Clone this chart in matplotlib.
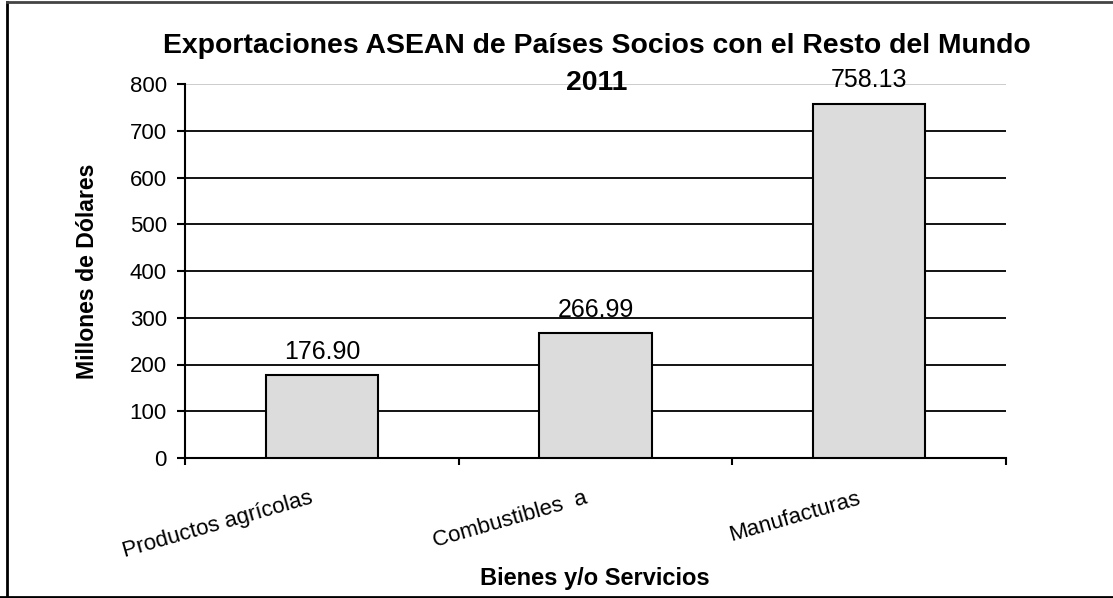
import matplotlib
matplotlib.use("Agg")
import matplotlib.pyplot as plt
import matplotlib.transforms as mtransforms
from matplotlib.lines import Line2D

categories = ["Productos agrícolas", "Combustibles  a", "Manufacturas"]
values = [176.90, 266.99, 758.13]
yticks = [0, 100, 200, 300, 400, 500, 600, 700, 800]
title_line1 = "Exportaciones ASEAN de Países Socios con el Resto del Mundo"
title_line2 = "2011"
ylabel = "Millones de Dólares"
xlabel = "Bienes y/o Servicios"

plt.rcParams['font.family'] = ['Liberation Sans', 'DejaVu Sans']

W, H = 1113, 598
fig = plt.figure(figsize=(W / 100, H / 100), dpi=100)
ax = fig.add_axes([185 / W, 1 - 458 / H, (1006 - 185) / W, (458 - 84) / H])

x = list(range(len(categories)))
ax.bar(x, values, width=0.41, color="#dcdcdc", edgecolor="black", linewidth=1.5, zorder=3)
for xi, v in zip(x, values):
    ax.annotate(f"{v:.2f}", (xi, v), xytext=(0, 8.4), textcoords="offset points",
                ha="center", va="bottom", fontsize=18)

ax.set_xlim(-0.5, len(categories) - 0.5)
ax.set_ylim(0, 800)
ax.set_yticks(yticks)
ax.set_yticklabels([str(t) for t in yticks], fontsize=16)
for t in yticks[1:]:
    ax.axhline(t, color="#c8c8c8" if t == 800 else "black", linewidth=1.3, zorder=1)

ax.set_xticks([i - 0.5 for i in range(len(categories) + 1)])
ax.set_xticklabels([])
ax.set_xticks(x, minor=True)
ax.set_xticklabels(categories, minor=True, fontsize=16, rotation=16,
                   ha="right", rotation_mode="anchor")
ax.tick_params(axis="x", which="minor", length=0, pad=21.5)
ax.tick_params(axis="x", which="major", length=5, width=1.5, direction="out")
ax.tick_params(axis="y", length=5.8, width=1.5, direction="out", pad=7.2)
shift = mtransforms.ScaledTranslation(-12 / 100, 0, fig.dpi_scale_trans)
for lab in ax.get_xticklabels(minor=True):
    lab.set_transform(lab.get_transform() + shift)

for s in ["top", "right"]:
    ax.spines[s].set_visible(False)
for s in ["left", "bottom"]:
    ax.spines[s].set_linewidth(1.5)

fig.text(597 / W, 1 - 53 / H, title_line1, ha="center", va="baseline",
         fontsize=20.4, fontweight="bold")
fig.text(597 / W, 1 - 90 / H, title_line2, ha="center", va="baseline",
         fontsize=20.4, fontweight="bold")
fig.text(88 / W, 1 - 271 / H, ylabel, ha="center", va="center", rotation=90,
         fontsize=16.6, fontweight="bold")
fig.text(595 / W, 1 - 578 / H, xlabel, ha="center", va="center",
         fontsize=17, fontweight="bold")

# outer border
fig.add_artist(Line2D([7 / W, 7 / W], [0, 1 - 2 / H], transform=fig.transFigure, color="black", linewidth=2))
fig.add_artist(Line2D([7 / W, 1], [1 - 2 / H, 1 - 2 / H], transform=fig.transFigure, color="#444444", linewidth=2))
fig.add_artist(Line2D([0, 1], [1 - 596.5 / H, 1 - 596.5 / H], transform=fig.transFigure, color="black", linewidth=2))

fig.savefig("out.png", dpi=100)
